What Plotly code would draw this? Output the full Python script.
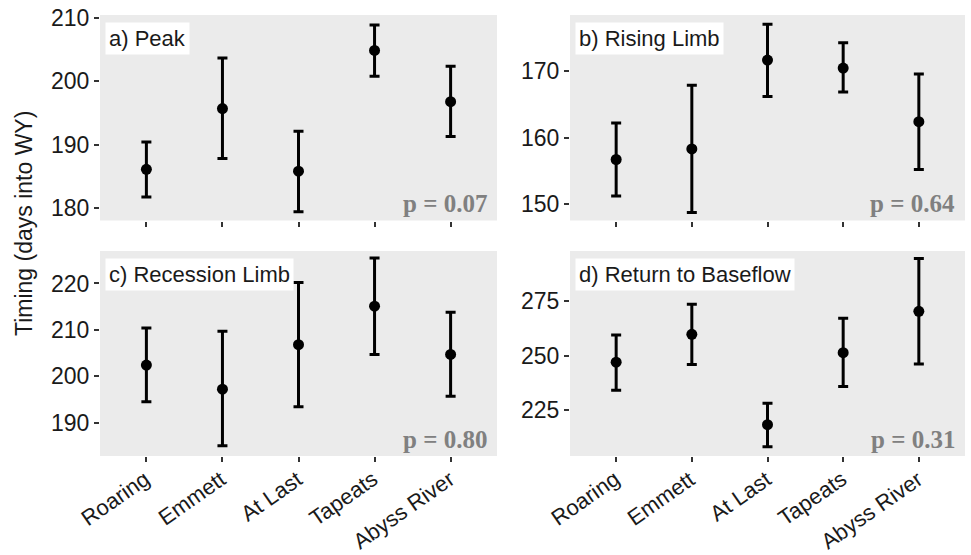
import plotly.graph_objects as go

W, H = 971, 555

sites = ["Roaring", "Emmett", "At Last", "Tapeats", "Abyss River"]

peak_mean = [186.1, 195.7, 185.8, 204.9, 196.8]
peak_hi = [190.4, 203.7, 192.1, 208.9, 202.4]
peak_lo = [181.7, 187.8, 179.4, 200.8, 191.3]

rise_mean = [156.7, 158.3, 171.7, 170.5, 162.4]
rise_hi = [162.2, 167.9, 177.1, 174.3, 169.6]
rise_lo = [151.2, 148.7, 166.2, 166.9, 155.2]

rec_mean = [202.4, 197.2, 206.8, 215.1, 204.7]
rec_hi = [210.4, 209.7, 220.2, 225.5, 213.8]
rec_lo = [194.5, 185.0, 193.4, 204.7, 195.7]

base_mean = [247.0, 259.8, 218.3, 251.4, 270.4]
base_hi = [259.5, 273.6, 228.1, 267.2, 294.7]
base_lo = [234.1, 246.0, 208.2, 235.8, 246.2]

panel_titles = ["a) Peak", "b) Rising Limb", "c) Recession Limb", "d) Return to Baseflow"]
p_values = ["p = 0.07", "p = 0.64", "p = 0.80", "p = 0.31"]
y_ranges = [[178.0, 210.5], [147.5, 178.5], [182.8, 227.0], [203.9, 298.1]]
y_ticks = [[180, 190, 200, 210], [150, 160, 170], [190, 200, 210, 220], [225, 250, 275]]

series = [
    (peak_mean, peak_hi, peak_lo),
    (rise_mean, rise_hi, rise_lo),
    (rec_mean, rec_hi, rec_lo),
    (base_mean, base_hi, base_lo),
]

# pixel boxes (left, right, top, bottom)
cols = [(100, 497), (570, 965)]
rows = [(15, 220.5), (251, 456)]


def px_x(v):
    return v / W


def px_y(v):
    return 1 - v / H


fig = go.Figure()
font_sans = "Liberation Sans, Arial, sans-serif"
font_serif = "Liberation Serif, Times New Roman, serif"

for i, (m, hi, lo) in enumerate(series):
    r, c = divmod(i, 2)
    xa = "x" if i == 0 else f"x{i+1}"
    ya = "y" if i == 0 else f"y{i+1}"
    plus = [h - v for h, v in zip(hi, m)]
    minus = [v - l for v, l in zip(m, lo)]
    fig.add_trace(go.Scatter(
        x=sites, y=m, mode="markers",
        marker=dict(color="black", size=11),
        error_y=dict(type="data", symmetric=False, array=plus, arrayminus=minus,
                     color="black", thickness=3, width=5),
        xaxis=xa, yaxis=ya, showlegend=False, cliponaxis=False,
    ))
    l, rr = cols[c]
    t, b = rows[r]
    xkey = "xaxis" if i == 0 else f"xaxis{i+1}"
    ykey = "yaxis" if i == 0 else f"yaxis{i+1}"
    fig.layout[xkey] = dict(
        domain=[px_x(l), px_x(rr)], anchor=ya, type="category",
        categoryorder="array", categoryarray=sites,
        range=[-0.61, 4.61], showgrid=False, zeroline=False,
        ticks="outside", ticklen=5, tickwidth=1.5, tickcolor="#333333",
        showticklabels=False, automargin=False, showline=False,
    )
    fig.layout[ykey] = dict(
        domain=[px_y(b), px_y(t)], anchor=xa, range=y_ranges[i],
        tickvals=y_ticks[i], showgrid=False, zeroline=False,
        ticks="outside", ticklen=5, tickwidth=1.5, tickcolor="#333333",
        tickfont=dict(family=font_sans, size=23, color="#1a1a1a"),
        showline=False, automargin=False,
    )
    fig.add_shape(type="rect", xref="paper", yref="paper",
                  x0=px_x(l), x1=px_x(rr), y0=px_y(b), y1=px_y(t),
                  fillcolor="#EBEBEB", line=dict(width=0), layer="below")
    fig.add_annotation(
        text=panel_titles[i], xref="paper", yref="paper",
        x=px_x(l + 5), y=px_y(t + 7), xanchor="left", yanchor="top",
        showarrow=False, bgcolor="white", borderpad=3,
        font=dict(family=font_sans, size=22, color="#1a1a1a"),
    )
    fig.add_annotation(
        text="<b>" + p_values[i] + "</b>", xref="paper", yref="paper",
        x=px_x(rr - 8), y=px_y(b - 17), xanchor="right", yanchor="middle",
        showarrow=False,
        font=dict(family=font_serif, size=25, color="#808080"),
    )
    # rotated category labels under the bottom row
    if r == 1:
        for s in sites:
            fig.add_annotation(
                text=s, xref=xa, yref="paper", x=s, y=px_y(b + 9),
                xanchor="right", yanchor="top", xshift=9, textangle=-35,
                showarrow=False, borderpad=0,
                font=dict(family=font_sans, size=22, color="#1a1a1a"),
            )

fig.add_annotation(
    text="Timing (days into WY)", xref="paper", yref="paper",
    x=px_x(24), y=px_y(224), xanchor="center", yanchor="middle",
    textangle=-90, showarrow=False,
    font=dict(family=font_sans, size=23, color="#1a1a1a"),
)

fig.update_layout(
    width=W, height=H, margin=dict(l=0, r=0, t=0, b=0),
    paper_bgcolor="white", plot_bgcolor="rgba(0,0,0,0)",
)

fig.write_html("out.html")
